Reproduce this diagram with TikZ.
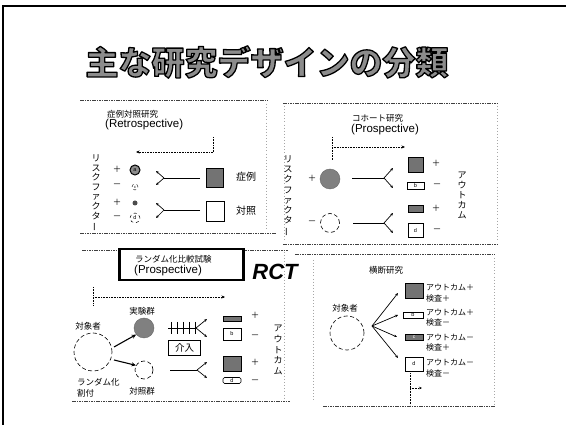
\documentclass[tikz,border=0pt]{standalone}
\usepackage{fontspec}
\setmainfont{Noto Sans CJK JP}
\newfontfamily\arialf{Liberation Sans}
\usetikzlibrary{arrows.meta}
\newcommand{\myvchoon}{\rotatebox[origin=c]{90}{ー}}
\newcommand{\outlinedtext}[1]{\special{pdf:literal direct q 0.55 g 0 0 0 RG 1.3 w 1 j 2 Tr}#1\special{pdf:literal direct Q}}
\begin{document}
\begin{tikzpicture}[x=1pt,y=-1pt,
  lbl/.style={font=\fontsize{8.5}{9}\selectfont, inner sep=0pt},
  big/.style={font=\fontsize{10}{11}\selectfont, inner sep=0pt},
  sml/.style={font=\fontsize{8}{9}\selectfont, inner sep=0pt},
  sgn/.style={font=\fontsize{8.5}{9}\selectfont, inner sep=0pt},
  latin/.style={font=\arialf\fontsize{11.5}{12}\selectfont, inner sep=0pt},
  vlbl/.style={font=\fontsize{9}{9.6}\selectfont, inner sep=0pt, align=center},
  tiny/.style={font=\arialf\fontsize{5.5}{6}\selectfont, inner sep=0pt},
  tip/.style={-{Stealth[length=3pt,width=2.6pt]}, line width=0.7pt},
  conn/.style={line width=0.7pt},
  panelh/.style={draw=black!75, dash pattern=on 1.6pt off 0.8pt, line width=0.6pt},
  panelv/.style={draw=black!35, dash pattern=on 0.6pt off 2.5pt, line width=0.5pt},
  dotarrow/.style={dash pattern=on 0.8pt off 0.8pt, line width=0.6pt},
  dcirc/.style={circle, draw, dash pattern=on 4pt off 2.5pt, line width=0.6pt, inner sep=0pt},
  dgray/.style={fill=black!55, draw=black, line width=0.7pt, inner sep=0pt},
  wbox/.style={fill=white, draw=black, line width=0.7pt, inner sep=0pt},
  titlef/.style={font=\fontsize{33}{34}\selectfont\bfseries, inner sep=0pt},
]
\useasboundingbox (0,0) rectangle (566,425);
\fill[white] (0,0) rectangle (566,425);
% slide frame
\draw[line width=1.4pt] (3,430) -- (3,6) -- (570,6);

% title, outlined
\node[titlef] (title) at (267,62) {\outlinedtext{主な研究デザインの分類}};

% ================= panel: case-control =================
\draw[panelh] (80,100) -- (268,100);
\draw[panelh] (80,233) -- (276,233);
\draw[panelv] (266,104) -- (266,230);
\node[lbl, anchor=west] (cct) at (107,114) {症例対照研究};
\node[latin, anchor=west] (cctp) at (105,125) {(Retrospective)};
\coordinate (cv1) at (213,137);
\coordinate (cv2) at (213,152);
\coordinate (ch2) at (136,152);
\draw[dotarrow] (cv1) -- (cv2);
\draw[dotarrow, -{Stealth[length=3.5pt,width=3pt]}] (cv2) -- (ch2);
\node[vlbl] (crf) at (96,193) {リ\\ス\\ク\\フ\\ァ\\ク\\タ\\\myvchoon};
\node[sgn] (cs1) at (117,169) {＋};
\node[sgn] (cs2) at (117,186) {－};
\node[sgn] (cs3) at (117,202) {＋};
\node[sgn] (cs4) at (117,218) {－};
\node[circle, draw, fill=black!45, line width=1pt, minimum size=10pt, tiny] (cca) at (135,170) {a};
\node[circle, draw, dashed, line width=0.4pt, minimum size=6pt, font=\arialf\fontsize{4}{4}\selectfont, inner sep=0pt] (ccc) at (135,187) {c};
\node[circle, fill=black!70, minimum size=5pt, inner sep=0pt] (ccb) at (135,203) {};
\node[circle, draw, dashed, line width=0.5pt, minimum size=10pt, tiny] (ccd) at (135,218) {d};
\coordinate (cj1) at (164,178);
\coordinate (ce1) at (200,178);
\coordinate (ct1a) at (156,171);
\coordinate (ct1b) at (156,185);
\draw[conn] (ce1) -- (cj1);
\draw[tip] (cj1) -- (ct1a);
\draw[tip] (cj1) -- (ct1b);
\coordinate (cj2) at (164,210);
\coordinate (ce2) at (200,210);
\coordinate (ct2a) at (156,203);
\coordinate (ct2b) at (156,218);
\draw[conn] (ce2) -- (cj2);
\draw[tip] (cj2) -- (ct2a);
\draw[tip] (cj2) -- (ct2b);
\node[dgray, minimum width=17pt, minimum height=19pt] (ccase) at (215,177.5) {};
\node[wbox, minimum width=18pt, minimum height=20pt] (cctrl) at (215,211) {};
\node[big] (ccaset) at (246,177) {症例};
\node[big] (cctrlt) at (246,211) {対照};

% ================= panel: cohort =================
\draw[panelh] (283,103) -- (497,103);
\draw[panelh] (283,244) -- (497,244);
\draw[panelv] (284,106) -- (284,241);
\draw[panelv] (497,106) -- (497,241);
\node[lbl, anchor=west] (cot) at (352,118) {コホート研究};
\node[latin, anchor=west] (cotp) at (351,130) {(Prospective)};
\coordinate (ov1) at (332,137);
\coordinate (ov3) at (332,160);
\coordinate (ov2) at (332,147);
\coordinate (oh2) at (405,147);
\draw[dotarrow] (ov1) -- (ov3);
\draw[dotarrow, -{Stealth[length=3.5pt,width=3pt]}] (ov2) -- (oh2);
\node[vlbl, font=\fontsize{9}{10.2}\selectfont] (orf) at (288,196) {リ\\ス\\ク\\フ\\ァ\\ク\\タ\\\myvchoon};
\node[sgn] (os1) at (312,178) {＋};
\node[sgn] (os2) at (312,223) {－};
\node[circle, fill=black!50, draw=black!60, line width=0.4pt, minimum size=20pt, inner sep=0pt] (oexp) at (330,179) {};
\node[dcirc, minimum size=19pt] (ounx) at (330,223) {};
\coordinate (os1e) at (352,178);
\coordinate (oj1) at (384,178);
\coordinate (ot1a) at (393,168);
\coordinate (ot1b) at (393,188);
\draw[conn] (os1e) -- (oj1);
\draw[tip] (oj1) -- (ot1a);
\draw[tip] (oj1) -- (ot1b);
\coordinate (os2e) at (353,223);
\coordinate (oj2) at (384,223);
\coordinate (ot2a) at (393,213);
\coordinate (ot2b) at (393,233);
\draw[conn] (os2e) -- (oj2);
\draw[tip] (oj2) -- (ot2a);
\draw[tip] (oj2) -- (ot2b);
\node[dgray, minimum width=15pt, minimum height=15pt] (oa) at (415.5,164.5) {};
\node[wbox, minimum width=17pt, minimum height=7pt, tiny] (ob) at (415.5,186) {b};
\node[dgray, minimum width=15pt, minimum height=7pt] (oc) at (415.5,209) {};
\node[wbox, minimum width=15pt, minimum height=14pt, tiny] (od) at (415.5,230.5) {d};
\node[sgn] (oap) at (436,163) {＋};
\node[sgn] (obm) at (437,186) {－};
\node[sgn] (ocp) at (436,208) {＋};
\node[sgn] (odm) at (437,231) {－};
\node[vlbl, font=\fontsize{9}{10}\selectfont] (oout) at (462,195) {ア\\ウ\\ト\\カ\\ム};

% ================= panel: RCT =================
\draw[panelh] (82,250) -- (288,250);
\draw[panelv] (284,252) -- (284,398);
\draw[panelh] (72,401) -- (290,401);
\node[draw, fill=white, line width=2.2pt, minimum width=124pt, minimum height=31pt, inner sep=0pt] (rbox) at (181.5,264.5) {};
\node[lbl, anchor=west] (rt) at (135,259) {ランダム化比較試験};
\node[latin, anchor=west] (rtp) at (134,271) {(Prospective)};
\node[font=\arialf\fontsize{22}{22}\selectfont\bfseries\itshape, inner sep=0pt] (rct) at (275,272) {RCT};
\coordinate (rv1) at (93,287);
\coordinate (rv2) at (93,306);
\coordinate (rh1) at (93,297);
\coordinate (rh2) at (225,297);
\draw[dotarrow] (rv1) -- (rv2);
\draw[dotarrow, -{Stealth[length=3.5pt,width=3pt]}] (rh1) -- (rh2);
\node[lbl] (rexpt) at (142,311) {実験群};
\node[lbl] (rsubt) at (88,326) {対象者};
\node[dcirc, minimum size=38pt] (rsub) at (93,352) {};
\node[circle, fill=black!50, draw=black!60, line width=0.4pt, minimum size=20pt, inner sep=0pt] (rexp) at (144,328) {};
\node[dcirc, minimum size=18pt] (rctl) at (144,370) {};
\coordinate (ra1s) at (114,347);
\coordinate (ra2s) at (114,360);
\draw[-{Stealth[length=4.5pt,width=4pt]}, line width=1.1pt] (ra1s) -- (rexp.220);
\draw[-{Stealth[length=4.5pt,width=4pt]}, line width=1.1pt] (ra2s) -- (rctl.150);
\node[lbl, anchor=west] (rrand1) at (77,382) {ランダム化};
\node[lbl, anchor=west] (rrand2) at (77,393) {割付};
\node[lbl] (rctlt) at (142,391) {対照群};
% fence (intervention)
\coordinate (rf1) at (168,328);
\coordinate (rj1) at (196,328);
\draw[conn] (rf1) -- (rj1);
\foreach \xx in {171,177,183,189,195}
  \draw[line width=0.7pt] (\xx,322) -- (\xx,334);
\coordinate (rt1a) at (207,319);
\coordinate (rt1b) at (207,337);
\draw[tip] (rj1) -- (rt1a);
\draw[tip] (rj1) -- (rt1b);
\node[draw, line width=1.7pt, minimum width=32pt, minimum height=15pt, inner sep=0pt, font=\fontsize{9.5}{10}\selectfont] (rint) at (184.5,348) {介入};
\coordinate (rf2) at (170,370);
\coordinate (rj2) at (197,370);
\coordinate (rt2a) at (207,362);
\coordinate (rt2b) at (207,378);
\draw[conn] (rf2) -- (rj2);
\draw[tip] (rj2) -- (rt2a);
\draw[tip] (rj2) -- (rt2b);
\node[dgray, minimum width=18pt, minimum height=5pt] (ra) at (232,318.5) {};
\node[wbox, minimum width=18pt, minimum height=12pt, tiny] (rb) at (232,334) {b};
\node[dgray, minimum width=18pt, minimum height=15pt] (rc) at (232,363.5) {};
\node[wbox, rounded corners=1.5pt, minimum width=18pt, minimum height=6pt, tiny] (rd) at (232,380.5) {d};
\node[sgn] (rap) at (255,315) {＋};
\node[sgn] (rbm) at (255,337) {－};
\node[sgn] (rcp) at (255,362) {＋};
\node[sgn] (rdm) at (255,382) {－};
\node[vlbl, font=\fontsize{9}{10.8}\selectfont] (rout) at (278,350) {ア\\ウ\\ト\\カ\\ム};

% ================= panel: cross-sectional =================
\draw[panelh] (295,254) -- (495,254);
\draw[panelh] (323,406) -- (495,406);
\draw[panelv] (313,260) -- (313,402);
\draw[panelv] (494,258) -- (494,404);
\node[lbl] (xt) at (386,270) {横断研究};
\node[lbl] (xsubt) at (345,308) {対象者};
\node[dcirc, minimum size=34pt] (xsub) at (347,333) {};
\coordinate (xj) at (372,326);
\node[dgray, minimum width=18pt, minimum height=15pt] (xa) at (414,290.5) {};
\node[wbox, minimum width=20pt, minimum height=6pt, tiny] (xb) at (413,315) {b};
\node[dgray, minimum width=18pt, minimum height=6pt, font=\arialf\fontsize{5}{5}\selectfont, text=white] (xc) at (414,337) {c};
\node[wbox, minimum width=18pt, minimum height=14pt, tiny] (xd) at (414,364) {d};
\draw[tip] (xj) -- (398,293);
\draw[tip] (xj) -- (398,315);
\draw[tip] (xj) -- (397,337);
\draw[tip] (xj) -- (398,358);
\node[sml, anchor=west] (xa1) at (426,287) {アウトカム＋};
\node[sml, anchor=west] (xa2) at (426,298) {検査＋};
\node[sml, anchor=west] (xb1) at (426,312) {アウトカム＋};
\node[sml, anchor=west] (xb2) at (426,322) {検査－};
\node[sml, anchor=west] (xc1) at (426,337) {アウトカム－};
\node[sml, anchor=west] (xc2) at (426,347) {検査＋};
\node[sml, anchor=west] (xd1) at (426,362) {アウトカム－};
\node[sml, anchor=west] (xd2) at (426,373) {検査－};
\coordinate (xv1) at (410,373);
\coordinate (xv2) at (410,405);
\coordinate (xh1) at (410,388);
\coordinate (xh2) at (422,388);
\draw[dotarrow] (xv1) -- (xv2);
\draw[dotarrow, -{Stealth[length=3pt,width=2.5pt]}] (xh1) -- (xh2);
\end{tikzpicture}
\end{document}
